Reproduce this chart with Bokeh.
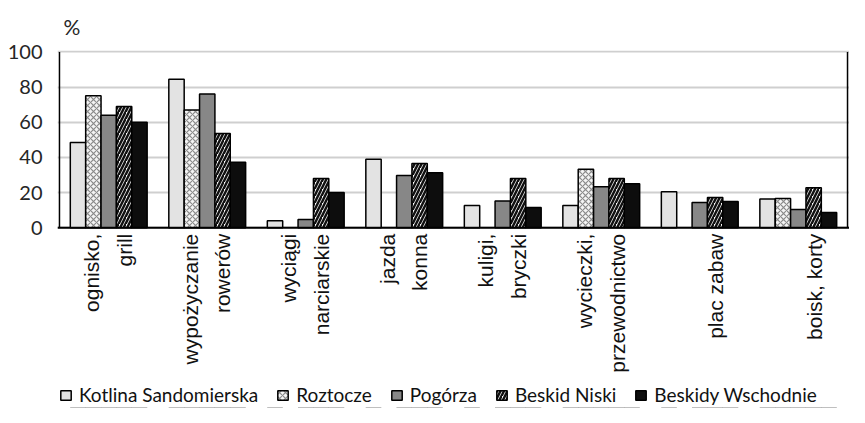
import math
from bokeh.plotting import figure
from bokeh.layouts import column
from bokeh.models import (FactorRange, ColumnDataSource, Legend, LegendItem,
                          Range1d, FixedTicker, Title, LabelSet, Span)
from bokeh.core.properties import value
from bokeh.transform import dodge
from bokeh.embed import file_html
from bokeh.resources import INLINE

nan = float("nan")

categories = ["ognisko, grill", "wypożyczanie rowerów", "wyciągi narciarskie", "jazda konna",
              "kuligi, bryczki", "wycieczki, przewodnictwo", "plac zabaw", "boisk, korty"]
label_line1 = ["ognisko,", "wypożyczanie", "wyciągi", "jazda", "kuligi,", "wycieczki,", "", ""]
label_line2 = ["grill", "rowerów", "narciarskie", "konna", "bryczki", "przewodnictwo",
               "plac zabaw", "boisk, korty"]
series_names = ["Kotlina Sandomierska", "Roztocze", "Pogórza", "Beskid Niski", "Beskidy Wschodnie"]

kotlina = [48.5, 84.5, 4.0, 39.0, 12.7, 12.7, 20.5, 16.3]
roztocze = [75.0, 67.0, nan, nan, nan, 33.3, nan, 16.7]
pogorza = [64.0, 76.0, 4.7, 29.7, 15.2, 23.3, 14.4, 10.4]
beskid_niski = [69.0, 53.6, 28.0, 36.5, 28.0, 28.0, 17.2, 22.7]
beskidy_wschodnie = [60.0, 37.3, 20.0, 31.3, 11.5, 25.0, 14.9, 8.7]

y_ticks = [0, 20, 40, 60, 80, 100]
y_top = 100.8
y_bottom = -88.0   # room below the zero line for the rotated category labels

source = ColumnDataSource(data=dict(
    cat=categories, s0=kotlina, s1=roztocze, s2=pogorza, s3=beskid_niski, s4=beskidy_wschodnie,
    l1=label_line1, l2=label_line2, ly=[-3.4] * len(categories)))

p = figure(frame_width=792, frame_height=332,
           x_range=FactorRange(*categories, range_padding=0.005),
           y_range=Range1d(y_bottom, y_top), output_backend="svg", toolbar_location=None,
           min_border_left=57, min_border_right=0, min_border_top=49, min_border_bottom=0)
p.outline_line_color = None
p.background_fill_color = "white"
p.border_fill_color = "white"
p.xaxis.visible = False

bw = 0.156
offsets = [-2 * bw, -bw, 0, bw, 2 * bw]
styles = [
    dict(fill_color="#e3e3e3"),
    dict(fill_color="#f4f4f4", hatch_pattern="x", hatch_color="#8a8a8a", hatch_scale=6, hatch_weight=1.2),
    dict(fill_color="#878787"),
    dict(fill_color="white", hatch_pattern="/", hatch_color="#111111", hatch_scale=7, hatch_weight=2.5),
    dict(fill_color="#0d0d0d"),
]
for i, (off, st) in enumerate(zip(offsets, styles)):
    p.vbar(x=dodge("cat", off, range=p.x_range), top="s%d" % i, bottom=0, width=bw,
           source=source, line_color="black", line_width=1.5, **st)

# y axis (labels only; its line is drawn between 0 and 100 below)
p.yaxis.ticker = FixedTicker(ticks=y_ticks)
p.yaxis.major_tick_line_color = None
p.yaxis.minor_tick_line_color = None
p.yaxis.major_tick_out = 0
p.yaxis.major_tick_in = 0
p.yaxis.axis_line_color = None
p.yaxis.major_label_text_font = "Lato"
p.yaxis.major_label_text_font_size = "20px"
p.yaxis.major_label_text_color = "#262626"
p.yaxis.major_label_standoff = 15

p.xgrid.grid_line_color = None
p.ygrid.grid_line_color = "#cfcfcf"
p.ygrid.grid_line_width = 2

# frame lines: left & right vertical edges from 0 to 100, and the zero axis line
p.segment(x0=dodge("cat", -0.5, range=p.x_range), x1=dodge("cat", -0.5, range=p.x_range),
          y0=0, y1=100, source=ColumnDataSource(data=dict(cat=[categories[0]])),
          line_color="black", line_width=1.5)
p.segment(x0=dodge("cat", 0.5, range=p.x_range), x1=dodge("cat", 0.5, range=p.x_range),
          y0=0, y1=100, source=ColumnDataSource(data=dict(cat=[categories[-1]])),
          line_color="black", line_width=1.5)
p.add_layout(Span(location=0, dimension="width", line_color="black", line_width=2))

# category labels, two rotated lines each
for field, off in (("l1", -0.17), ("l2", 0.16)):
    ls = LabelSet(x=dodge("cat", off, range=p.x_range), y="ly", text=field, source=source,
                  angle=math.pi / 2, text_align="right", text_baseline="middle",
                  text_font=value("Liberation Sans"), text_font_size="21px", text_color="#111111")
    p.add_layout(ls)

p.title = Title(text="%", align="left", text_font="Lato", text_font_size="21px",
                text_font_style="normal", text_color="#262626", standoff=23, offset=6)

# legend strip (its bars share the data but sit outside its visible y range)
lg = figure(frame_width=792, frame_height=26, x_range=p.x_range, y_range=Range1d(200, 300),
            output_backend="svg", toolbar_location=None,
            min_border_left=57, min_border_right=0, min_border_top=0, min_border_bottom=0)
lg.axis.visible = False
lg.grid.grid_line_color = None
lg.outline_line_color = None
lg.background_fill_color = "white"
lg.border_fill_color = "white"
lrs = []
for i, (off, st) in enumerate(zip(offsets, styles)):
    lrs.append(lg.vbar(x=dodge("cat", off, range=p.x_range), top="s%d" % i, bottom=0, width=bw,
                       source=source, line_color="black", line_width=1.5, **st))
legend = Legend(items=[LegendItem(label=n, renderers=[r]) for n, r in zip(series_names, lrs)],
                orientation="horizontal", location=(2, 2), glyph_width=13, glyph_height=12,
                label_standoff=7, spacing=18, padding=0, margin=0, border_line_color=None,
                label_text_font="Lato", label_text_font_size="19px", label_text_color="#111111",
                background_fill_alpha=0)
lg.add_layout(legend, "center")

open("out.html", "w").write(file_html(column(p, lg, spacing=0), INLINE))
